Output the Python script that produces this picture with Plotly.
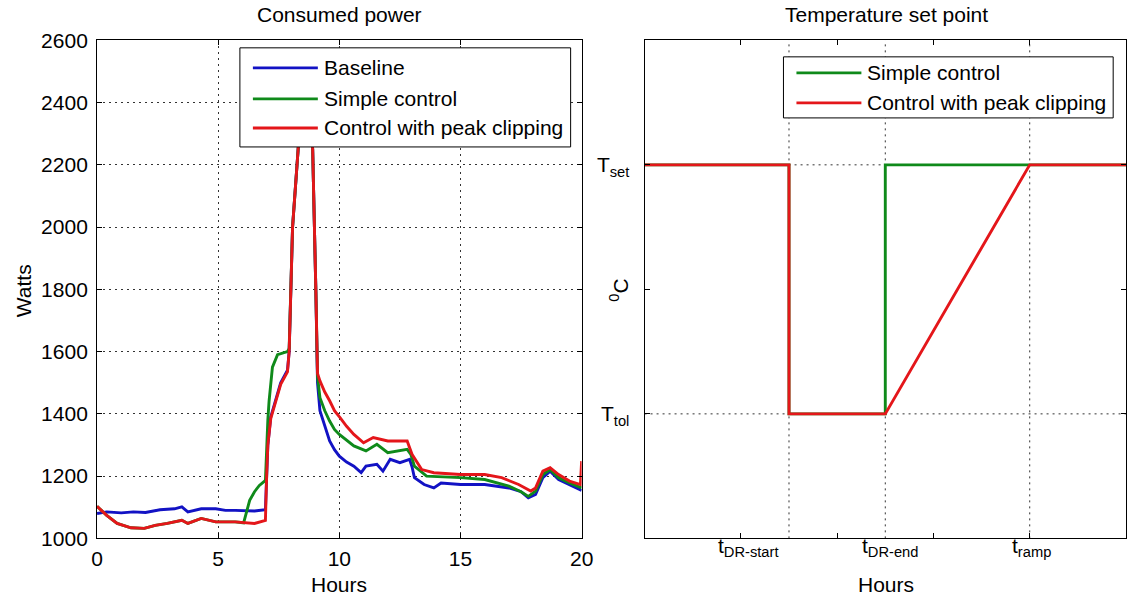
import plotly.graph_objects as go

# Figure size (css px) and calibration from the page's css pixels to the photographed picture
FIG_W, FIG_H = 1138, 606
CAL_X0, CAL_SX = 4.9, 0.985
CAL_Y0, CAL_SY = 11.2, 0.961

# ---------------- data: left panel (Consumed power) ----------------
hours_baseline = [0, 0.4, 1.0, 1.5, 2.0, 2.6, 3.2, 3.5, 3.75, 4.3, 4.9, 5.3, 5.7, 6.2, 6.5, 6.95,
                  7.0, 7.05, 7.17, 7.37, 7.58, 7.86, 7.93, 8.0, 8.07, 8.3, 8.5, 8.7, 8.9, 9.03,
                  9.07, 9.1, 9.2, 9.4, 9.6, 9.8, 10.0, 10.3, 10.6, 10.9, 11.1, 11.55, 11.8, 12.1,
                  12.5, 12.9, 13.0, 13.1, 13.5, 13.9, 14.2, 15.0, 16.0, 17.0, 17.5, 17.8, 18.1,
                  18.4, 18.7, 19.05, 19.5, 20.0]
watts_baseline = [1080, 1085, 1082, 1085, 1083, 1092, 1095, 1101, 1085, 1095, 1095, 1090, 1090, 1088, 1088, 1092,
                  1200, 1300, 1390, 1440, 1500, 1540, 1600, 1800, 2000, 2250, 2450, 2480, 2250, 1800,
                  1600, 1500, 1410, 1360, 1313, 1285, 1264, 1245, 1232, 1211, 1232, 1238, 1216, 1254,
                  1243, 1254, 1230, 1195, 1173, 1162, 1178, 1173, 1173, 1162, 1150, 1130, 1141,
                  1195, 1216, 1189, 1173, 1154]

hours_simple = [0, 0.4, 0.83, 1.4, 1.95, 2.4, 2.9, 3.5, 3.75, 4.3, 4.9, 5.7, 6.05, 6.3, 6.5, 6.7, 6.95,
                7.0, 7.05, 7.1, 7.17, 7.24, 7.45, 7.86, 7.93, 8.0, 8.07, 8.3, 8.5, 8.7, 8.9, 9.03,
                9.07, 9.1, 9.2, 9.4, 9.6, 9.8, 10.0, 10.3, 10.6, 11.1, 11.55, 12.0, 12.8, 12.95,
                13.1, 13.6, 15.0, 16.0, 17.0, 17.5, 17.8, 18.1, 18.4, 18.7, 19.05, 19.5, 20.0]
watts_simple = [1103, 1074, 1048, 1034, 1032, 1042, 1048, 1058, 1048, 1064, 1053, 1053, 1050, 1122, 1150, 1170, 1186,
                1300, 1380, 1440, 1500, 1550, 1590, 1600, 1610, 1800, 2000, 2250, 2450, 2480, 2250, 1800,
                1620, 1520, 1452, 1410, 1377, 1350, 1334, 1315, 1297, 1281, 1302, 1275, 1286, 1270,
                1232, 1200, 1195, 1189, 1168, 1150, 1135, 1152, 1205, 1221, 1195, 1178, 1162]

hours_clip = [0, 0.4, 0.83, 1.4, 1.95, 2.4, 2.9, 3.5, 3.75, 4.3, 4.9, 5.7, 6.5, 6.95,
              7.0, 7.05, 7.17, 7.37, 7.58, 7.86, 7.93, 8.0, 8.07, 8.3, 8.5, 8.7, 8.9, 9.03,
              9.07, 9.1, 9.2, 9.4, 9.6, 9.8, 10.03, 10.3, 10.6, 11.0, 11.4, 12.0, 12.8, 13.0,
              13.4, 13.9, 15.0, 16.0, 16.7, 17.4, 17.9, 18.1, 18.4, 18.7, 19.05, 19.5, 19.95, 20.0]
watts_clip = [1103, 1074, 1048, 1034, 1032, 1042, 1048, 1058, 1048, 1064, 1053, 1053, 1048, 1058,
              1200, 1300, 1385, 1435, 1495, 1535, 1600, 1800, 2000, 2250, 2450, 2480, 2250, 1800,
              1620, 1530, 1506, 1470, 1442, 1410, 1388, 1360, 1334, 1307, 1324, 1313, 1313, 1270,
              1221, 1211, 1205, 1205, 1195, 1173, 1152, 1162, 1216, 1227, 1205, 1184, 1173, 1248]

power_series_names = ["Baseline", "Simple control", "Control with peak clipping"]
power_xticks = [0, 5, 10, 15, 20]
power_yticks = [1000, 1200, 1400, 1600, 1800, 2000, 2200, 2400, 2600]

# ---------------- data: right panel (Temperature set point) ----------------
setpoint_names = ["Simple control", "Control with peak clipping"]
setpoint_time_simple = [0, 1.5, 1.5, 2.5, 2.5, 5]
setpoint_level_simple = [6, 6, 2, 2, 6, 6]
setpoint_time_clip = [0, 1.5, 1.5, 2.5, 4, 5]
setpoint_level_clip = [6, 6, 2, 2, 6, 6]
event_times = [1.5, 2.5, 4]               # DR start, DR end, ramp end
event_labels = ["t<sub>DR-start</sub>", "t<sub>DR-end</sub>", "t<sub>ramp</sub>"]
event_label_pos = [1.08, 2.55, 4.02]
level_values = [2, 4, 6]
level_labels = ["T<sub>tol</sub>", "", "T<sub>set</sub>"]
time_ticks = [1, 2, 3, 4]

BLUE, GREEN, RED = "#1212c4", "#0f8a1a", "#e4161a"
FONT = "Liberation Sans, Arial, Helvetica, sans-serif"
FS = 21
GRID_DASH = "2px,4px"
LW = 2.9


def px(x):
    s = (x - CAL_X0) / CAL_SX
    return min(max(s / FIG_W, 0.0), 1.0)


def py(y):
    s = (y - CAL_Y0) / CAL_SY
    return min(max(1 - s / FIG_H, 0.0), 1.0)


fig = go.Figure()

for h, w, name, col in [(hours_baseline, watts_baseline, power_series_names[0], BLUE),
                        (hours_simple, watts_simple, power_series_names[1], GREEN),
                        (hours_clip, watts_clip, power_series_names[2], RED)]:
    fig.add_trace(go.Scatter(x=h, y=w, mode="lines", name=name, showlegend=False,
                             line=dict(color=col, width=LW), xaxis="x", yaxis="y"))

for t, lv, name, col in [(setpoint_time_simple, setpoint_level_simple, setpoint_names[0], GREEN),
                         (setpoint_time_clip, setpoint_level_clip, setpoint_names[1], RED)]:
    fig.add_trace(go.Scatter(x=t, y=lv, mode="lines", name=name, showlegend=False,
                             line=dict(color=col, width=LW), xaxis="x2", yaxis="y2"))

ydom = [py(537), py(39.5)]
axis_common = dict(showline=True, linecolor="black", linewidth=1, mirror="ticks",
                   ticks="inside", ticklen=5, tickcolor="black", zeroline=False,
                   tickfont=dict(family=FONT, size=FS, color="black"))

fig.update_layout(
    width=FIG_W, height=FIG_H, autosize=False,
    margin=dict(l=0, r=0, t=0, b=0),
    paper_bgcolor="white", plot_bgcolor="white",
    font=dict(family=FONT, size=FS, color="black"),
    xaxis=dict(domain=[px(96), px(581)], range=[0, 20], tickvals=power_xticks,
               showgrid=True, gridcolor="#333333", gridwidth=1, griddash=GRID_DASH,
               anchor="y", ticklabelstandoff=1, **axis_common),
    yaxis=dict(domain=ydom, range=[1000, 2600], tickvals=power_yticks,
               showgrid=True, gridcolor="#333333", gridwidth=1, griddash=GRID_DASH,
               anchor="x", ticklabelstandoff=4, **axis_common),
    xaxis2=dict(domain=[px(644), px(1126)], range=[0, 5], tickvals=time_ticks,
                ticktext=["", "", "", ""], showgrid=False, anchor="y2", **axis_common),
    yaxis2=dict(domain=ydom, range=[0, 8], tickvals=level_values, ticktext=level_labels,
                showgrid=False, anchor="x2", ticklabelstandoff=10, **axis_common),
)

shapes = []
for lv in [2, 6]:
    shapes.append(dict(type="line", xref="x2", yref="y2", x0=0, x1=5, y0=lv, y1=lv,
                       line=dict(color="#333333", width=1, dash=GRID_DASH), layer="below"))
for t in event_times:
    shapes.append(dict(type="line", xref="x2", yref="y2", x0=t, x1=t, y0=0, y1=8,
                       line=dict(color="#333333", width=1, dash=GRID_DASH), layer="below"))

annotations = []


def add_legend(box, rows, colors, labels):
    x0, y0, x1, y1 = box
    shapes.append(dict(type="rect", xref="paper", yref="paper", x0=px(x0), x1=px(x1),
                       y0=py(y1), y1=py(y0), fillcolor="white",
                       line=dict(color="black", width=1), layer="above"))
    for ry, col, lab in zip(rows, colors, labels):
        shapes.append(dict(type="line", xref="paper", yref="paper", x0=px(x0 + 13), x1=px(x0 + 78),
                           y0=py(ry), y1=py(ry), line=dict(color=col, width=LW), layer="above"))
        annotations.append(dict(xref="paper", yref="paper", x=px(x0 + 82), y=py(ry), text=lab,
                                showarrow=False, xanchor="left", yanchor="middle",
                                font=dict(family=FONT, size=FS, color="black")))


add_legend((239, 47, 570, 146), [67, 98, 127], [BLUE, GREEN, RED], power_series_names)
add_legend((783, 56, 1113, 117), [72, 102], [GREEN, RED], setpoint_names)

annotations += [
    dict(xref="paper", yref="paper", x=px(338.5), y=py(14), text="Consumed power", showarrow=False,
         xanchor="center", yanchor="middle", font=dict(family=FONT, size=FS)),
    dict(xref="paper", yref="paper", x=px(886), y=py(14), text="Temperature set point", showarrow=False,
         xanchor="center", yanchor="middle", font=dict(family=FONT, size=FS)),
    dict(xref="paper", yref="paper", x=px(338.5), y=py(583), text="Hours", showarrow=False,
         xanchor="center", yanchor="middle", font=dict(family=FONT, size=FS)),
    dict(xref="paper", yref="paper", x=px(886), y=py(583), text="Hours", showarrow=False,
         xanchor="center", yanchor="middle", font=dict(family=FONT, size=FS)),
    dict(xref="paper", yref="paper", x=px(22), y=py(290), text="Watts", showarrow=False,
         textangle=-90, xanchor="center", yanchor="middle", font=dict(family=FONT, size=FS)),
    dict(xref="paper", yref="paper", x=px(619), y=py(289), text="<sup>0</sup>C", showarrow=False,
         textangle=-90, xanchor="center", yanchor="middle", font=dict(family=FONT, size=FS)),
]
for pos, lab in zip(event_label_pos, event_labels):
    annotations.append(dict(xref="x2", yref="paper", x=pos, y=py(531), text=lab, showarrow=False,
                            xanchor="center", yanchor="top", font=dict(family=FONT, size=FS)))

fig.update_layout(shapes=shapes, annotations=annotations)
fig.write_html("out.html")
